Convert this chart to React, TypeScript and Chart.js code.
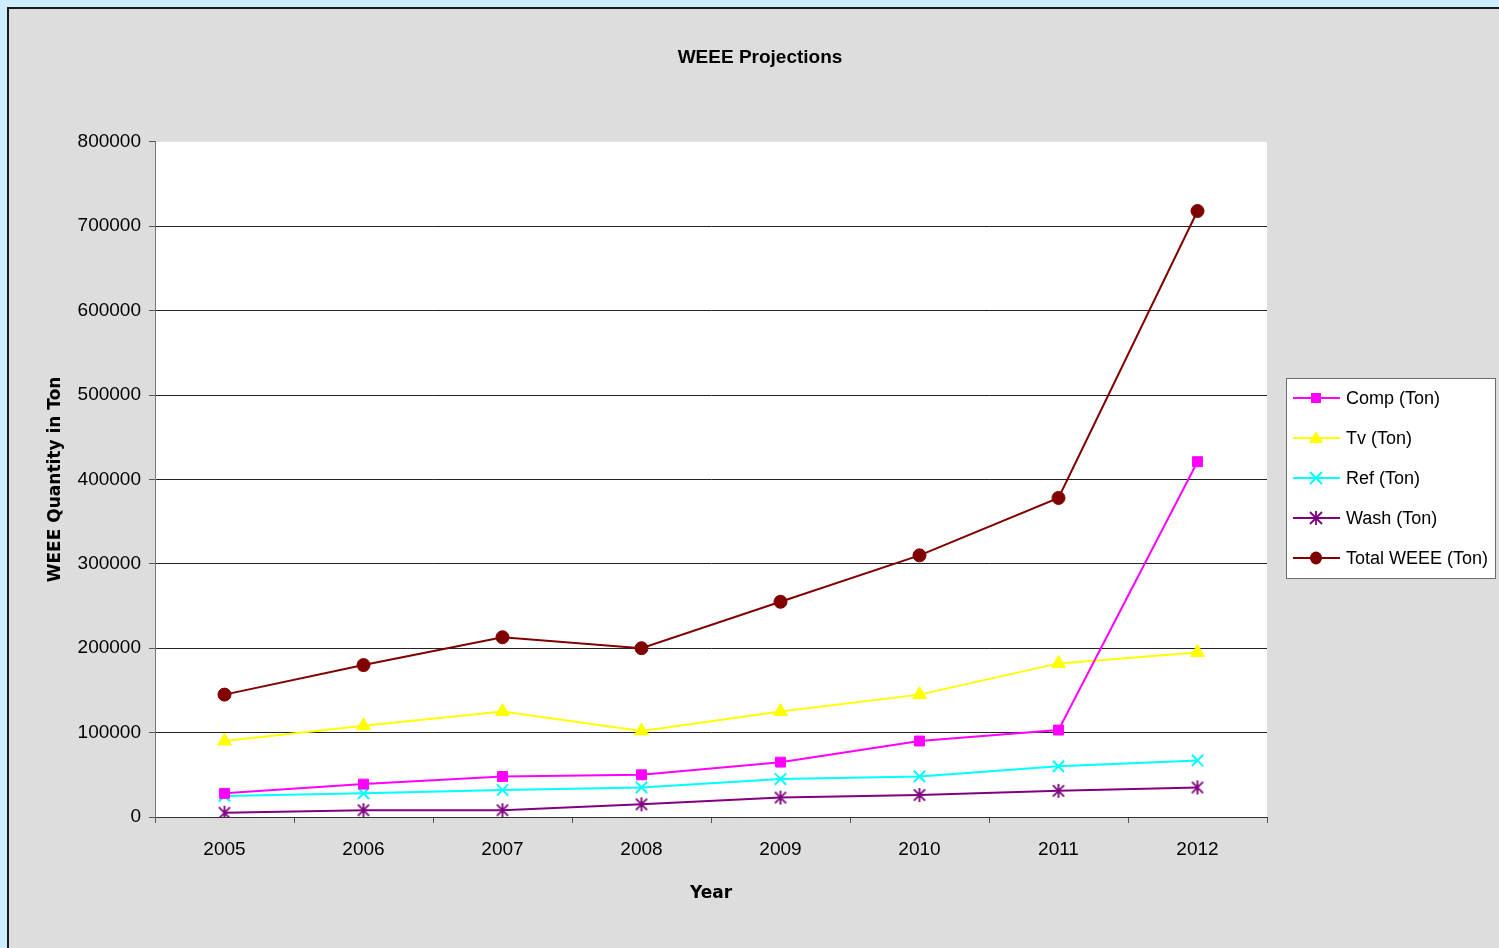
import React, { useEffect, useRef } from 'react';
import { Chart, registerables } from 'chart.js';

Chart.register(...registerables);

const years = ['2005', '2006', '2007', '2008', '2009', '2010', '2011', '2012'];
const compTon = [28000, 39000, 48000, 50000, 65000, 90000, 103000, 421000];
const tvTon = [90000, 108000, 125000, 102000, 125000, 145000, 182000, 195000];
const refTon = [25000, 28000, 32000, 35000, 45000, 48000, 60000, 67000];
const washTon = [5000, 8000, 8000, 15000, 23000, 26000, 31000, 35000];
const totalTon = [145000, 180000, 213000, 200000, 255000, 310000, 378000, 718000];
const seriesNames = ['Comp (Ton)', 'Tv (Ton)', 'Ref (Ton)', 'Wash (Ton)', 'Total WEEE (Ton)'];
const yMin = 0;
const yMax = 800000;
const yStep = 100000;

const COLORS = ['#FF00FF', '#FFFF00', '#00FFFF', '#800080', '#800000'];
const STYLES = ['rect', 'triangle', 'crossRot', 'excelStar', 'circle'];

function makeStarCanvas(color: string, size: number) {
  const c = document.createElement('canvas');
  c.width = size;
  c.height = size;
  const ctx = c.getContext('2d')!;
  ctx.strokeStyle = color;
  ctx.lineWidth = 1.8;
  const m = size / 2;
  const r = size / 2 - 1;
  ctx.beginPath();
  ctx.moveTo(m, m - r);
  ctx.lineTo(m, m + r);
  ctx.moveTo(m - r * 0.8, m - r * 0.8);
  ctx.lineTo(m + r * 0.8, m + r * 0.8);
  ctx.moveTo(m + r * 0.8, m - r * 0.8);
  ctx.lineTo(m - r * 0.8, m + r * 0.8);
  ctx.stroke();
  return c;
}

function drawMarker(ctx: CanvasRenderingContext2D, style: string, x: number, y: number, color: string) {
  ctx.save();
  ctx.fillStyle = color;
  ctx.strokeStyle = color;
  ctx.lineWidth = 2;
  if (style === 'rect') {
    ctx.fillRect(x - 5, y - 5, 10, 10);
  } else if (style === 'triangle') {
    ctx.beginPath();
    ctx.moveTo(x, y - 7);
    ctx.lineTo(x + 7, y + 5);
    ctx.lineTo(x - 7, y + 5);
    ctx.closePath();
    ctx.fill();
  } else if (style === 'crossRot') {
    ctx.beginPath();
    ctx.moveTo(x - 6, y - 6);
    ctx.lineTo(x + 6, y + 6);
    ctx.moveTo(x + 6, y - 6);
    ctx.lineTo(x - 6, y + 6);
    ctx.stroke();
  } else if (style === 'excelStar') {
    ctx.lineWidth = 1.8;
    ctx.beginPath();
    ctx.moveTo(x, y - 7);
    ctx.lineTo(x, y + 7);
    ctx.moveTo(x - 6, y - 6);
    ctx.lineTo(x + 6, y + 6);
    ctx.moveTo(x + 6, y - 6);
    ctx.lineTo(x - 6, y + 6);
    ctx.stroke();
  } else {
    ctx.beginPath();
    ctx.ellipse(x, y, 6, 6.5, 0, 0, Math.PI * 2);
    ctx.fill();
  }
  ctx.restore();
}

const plotBgPlugin = {
  id: 'plotBg',
  beforeDraw(chart: any) {
    const { ctx, chartArea } = chart;
    ctx.save();
    ctx.fillStyle = '#ffffff';
    ctx.fillRect(chartArea.left, chartArea.top, chartArea.right - chartArea.left, chartArea.bottom - chartArea.top);
    ctx.restore();
  },
};

const legendPlugin = {
  id: 'boxLegend',
  afterDraw(chart: any) {
    const ctx: CanvasRenderingContext2D = chart.ctx;
    const x0 = 1277;
    const y0 = 369;
    const w = 209;
    const h = 200;
    ctx.save();
    ctx.fillStyle = '#ffffff';
    ctx.fillRect(x0, y0, w, h);
    ctx.strokeStyle = '#6e6e6e';
    ctx.lineWidth = 1;
    ctx.strokeRect(x0 + 0.5, y0 + 0.5, w, h);
    seriesNames.forEach((name, i) => {
      const cy = y0 + 20 + i * 40;
      ctx.strokeStyle = COLORS[i];
      ctx.lineWidth = 2;
      ctx.beginPath();
      ctx.moveTo(x0 + 7, cy);
      ctx.lineTo(x0 + 54, cy);
      ctx.stroke();
      drawMarker(ctx, STYLES[i], x0 + 30, cy, COLORS[i]);
      ctx.fillStyle = '#000000';
      ctx.font = '18px "Liberation Sans", Arial, sans-serif';
      ctx.textAlign = 'left';
      ctx.textBaseline = 'middle';
      ctx.fillText(name, x0 + 60, cy + 1);
    });
    ctx.restore();
  },
};

export default function App() {
  const canvasRef = useRef<HTMLCanvasElement | null>(null);

  useEffect(() => {
    document.body.style.background = '#cdeeff';
    document.body.style.overflow = 'hidden';
    const canvas = canvasRef.current;
    if (!canvas) return;
    const star = makeStarCanvas(COLORS[3], 16);
    const values = [compTon, tvTon, refTon, washTon, totalTon];
    const pointStyles: any[] = ['rect', 'triangle', 'crossRot', star, 'circle'];
    const radii = [7, 8, 8, 8, 6.5];

    const chart = new Chart(canvas, {
      type: 'line',
      data: {
        labels: years,
        datasets: values.map((v, i) => ({
          label: seriesNames[i],
          data: v,
          borderColor: COLORS[i],
          backgroundColor: COLORS[i],
          pointBackgroundColor: COLORS[i],
          pointBorderColor: COLORS[i],
          pointStyle: pointStyles[i],
          pointRadius: radii[i],
          pointBorderWidth: i === 2 ? 2 : 1,
          borderWidth: 2,
          tension: 0,
          fill: false,
        })),
      },
      options: {
        responsive: false,
        animation: false,
        layout: { padding: { top: 0, left: 12, right: 0, bottom: 0 } },
        plugins: {
          legend: { display: false },
          tooltip: { enabled: false },
          title: {
            display: true,
            text: 'WEEE Projections',
            color: '#000000',
            font: { family: '"Liberation Sans", Arial, sans-serif', size: 19, weight: 'bold' },
            padding: { top: 37, bottom: 73 },
          },
        },
        scales: {
          x: {
            type: 'category',
            offset: true,
            grid: {
              offset: true,
              drawOnChartArea: false,
              drawTicks: true,
              tickLength: 6,
              tickColor: '#555555',
            },
            border: { color: '#333333', width: 1 },
            ticks: {
              color: '#000000',
              padding: 15,
              maxRotation: 0,
              font: { family: '"Liberation Sans", Arial, sans-serif', size: 19 },
            },
            title: {
              display: true,
              text: 'Year',
              color: '#000000',
              font: { family: '"DejaVu Sans", sans-serif', size: 17, weight: 'bold' },
              padding: { top: 0, bottom: 44 },
            },
            afterFit(scale: any) {
              scale.height = 131;
            },
          },
          y: {
            min: yMin,
            max: yMax,
            grid: {
              color: (c: any) => (c.tick && c.tick.value === yMax ? 'rgba(0,0,0,0)' : '#222222'),
              tickColor: '#555555',
              tickLength: 6,
              lineWidth: 1,
            },
            border: { color: '#777777', width: 1 },
            ticks: {
              stepSize: yStep,
              color: '#000000',
              padding: 8,
              font: { family: '"Liberation Sans", Arial, sans-serif', size: 19 },
              callback: (v: any) => String(v),
            },
            title: {
              display: true,
              text: 'WEEE Quantity in Ton',
              color: '#000000',
              font: { family: '"DejaVu Sans", sans-serif', size: 17, weight: 'bold' },
              padding: { top: 24, bottom: 0 },
            },
            afterFit(scale: any) {
              scale.width = 134;
            },
          },
          legendSpace: {
            type: 'linear',
            position: 'right',
            display: true,
            grid: { display: false, drawOnChartArea: false, drawTicks: false },
            border: { display: false },
            ticks: { display: false },
            afterFit(scale: any) {
              scale.width = 232;
            },
          },
        },
      },
      plugins: [plotBgPlugin, legendPlugin],
    });
    return () => chart.destroy();
  }, []);

  return (
    <div
      style={{
        position: 'absolute',
        left: 7,
        top: 7,
        width: 1490,
        height: 939,
        background: '#dddddd',
        borderLeft: '2px solid #1a1a1a',
        borderTop: '2px solid #1a1a1a',
        overflow: 'hidden',
      }}
    >
      <canvas ref={canvasRef} width={1490} height={939} style={{ display: 'block' }} />
    </div>
  );
}
